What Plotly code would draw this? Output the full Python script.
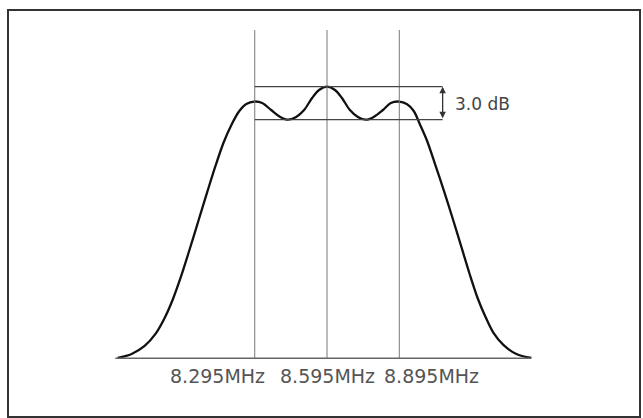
import plotly.graph_objects as go

# Frequency response (MHz, dB relative to centre peak)
freq_mhz = [7.726, 7.784, 7.838, 7.883, 7.921, 7.954, 7.987, 8.024, 8.061, 8.098,
            8.132, 8.165, 8.198, 8.231, 8.260, 8.293, 8.326, 8.363, 8.401, 8.434,
            8.467, 8.500, 8.533, 8.562, 8.595, 8.628, 8.657, 8.690, 8.723, 8.756,
            8.789, 8.827, 8.860, 8.893, 8.926, 8.955, 8.980, 9.009, 9.042, 9.079,
            9.116, 9.154, 9.187, 9.220, 9.253, 9.286, 9.327, 9.381, 9.443]
level_db = [-24.66, -24.30, -23.57, -22.48, -21.03, -19.39, -17.39, -14.85, -12.21, -9.57,
            -7.21, -5.12, -3.48, -2.21, -1.57, -1.35, -1.48, -2.12, -2.75, -3.0,
            -2.75, -2.12, -1.03, -0.30, 0.0, -0.30, -1.03, -2.12, -2.75, -3.0,
            -2.75, -2.12, -1.48, -1.35, -1.57, -2.21, -3.39, -4.85, -6.94, -9.39,
            -11.94, -14.66, -17.03, -19.21, -20.94, -22.39, -23.48, -24.30, -24.66]

marker_freqs = [8.295, 8.595, 8.895]
tick_labels = ["8.295MHz", "8.595MHz", "8.895MHz"]
ripple_db = 3.0
floor_db = -24.7

fig = go.Figure()
fig.add_trace(go.Scatter(x=freq_mhz, y=level_db, mode="lines",
                         line=dict(color="#111111", width=2.3, shape="spline", smoothing=0.9),
                         hoverinfo="skip"))

shapes = []
for f in marker_freqs:
    shapes.append(dict(type="line", x0=f, x1=f, y0=floor_db, y1=5.15, xref="x", yref="y",
                       line=dict(color="#777777", width=1)))
arrow_x = 9.075
shapes.append(dict(type="line", x0=marker_freqs[0], x1=arrow_x, y0=0, y1=0,
                   line=dict(color="#444444", width=1.2)))
shapes.append(dict(type="line", x0=marker_freqs[0], x1=arrow_x, y0=-ripple_db, y1=-ripple_db,
                   line=dict(color="#444444", width=1.2)))
shapes.append(dict(type="line", x0=freq_mhz[0] - 0.01, x1=freq_mhz[-1], y0=floor_db, y1=floor_db,
                   line=dict(color="#666666", width=1.5)))

annotations = [
    dict(x=arrow_x, y=0, ax=arrow_x, ay=-ripple_db, axref="x", ayref="y", xref="x", yref="y",
         text="", showarrow=True, arrowhead=2, arrowside="end+start", arrowsize=1,
         arrowwidth=1.3, arrowcolor="#333333", standoff=0, startstandoff=0),
    dict(x=9.118, y=-1.55, xref="x", yref="y", text=f"{ripple_db:.1f} dB", showarrow=False,
         xanchor="left", yanchor="middle", font=dict(family="DejaVu Sans", size=17, color="#444444")),
]
label_x = [8.140, 8.595, 9.029]
for lx, t in zip(label_x, tick_labels):
    annotations.append(dict(x=lx, y=-26.3, xref="x", yref="y", text=t, showarrow=False,
                            xanchor="center", yanchor="middle",
                            font=dict(family="DejaVu Sans", size=19, color="#555555")))

fig.update_layout(
    width=643, height=418,
    margin=dict(l=9, r=2, t=11, b=2),
    paper_bgcolor="white", plot_bgcolor="white",
    showlegend=False,
    shapes=shapes, annotations=annotations,
)
fig.update_xaxes(range=[7.275, 9.890], showgrid=False, zeroline=False, showticklabels=False,
                 ticks="", showline=True, mirror=True, linecolor="#333333", linewidth=2)
fig.update_yaxes(range=[-29.94, 6.88], showgrid=False, zeroline=False, showticklabels=False,
                 ticks="", showline=True, mirror=True, linecolor="#333333", linewidth=2)

fig.write_html("out.html", config={"displayModeBar": False},
               post_script="document.body.style.margin='0';")
